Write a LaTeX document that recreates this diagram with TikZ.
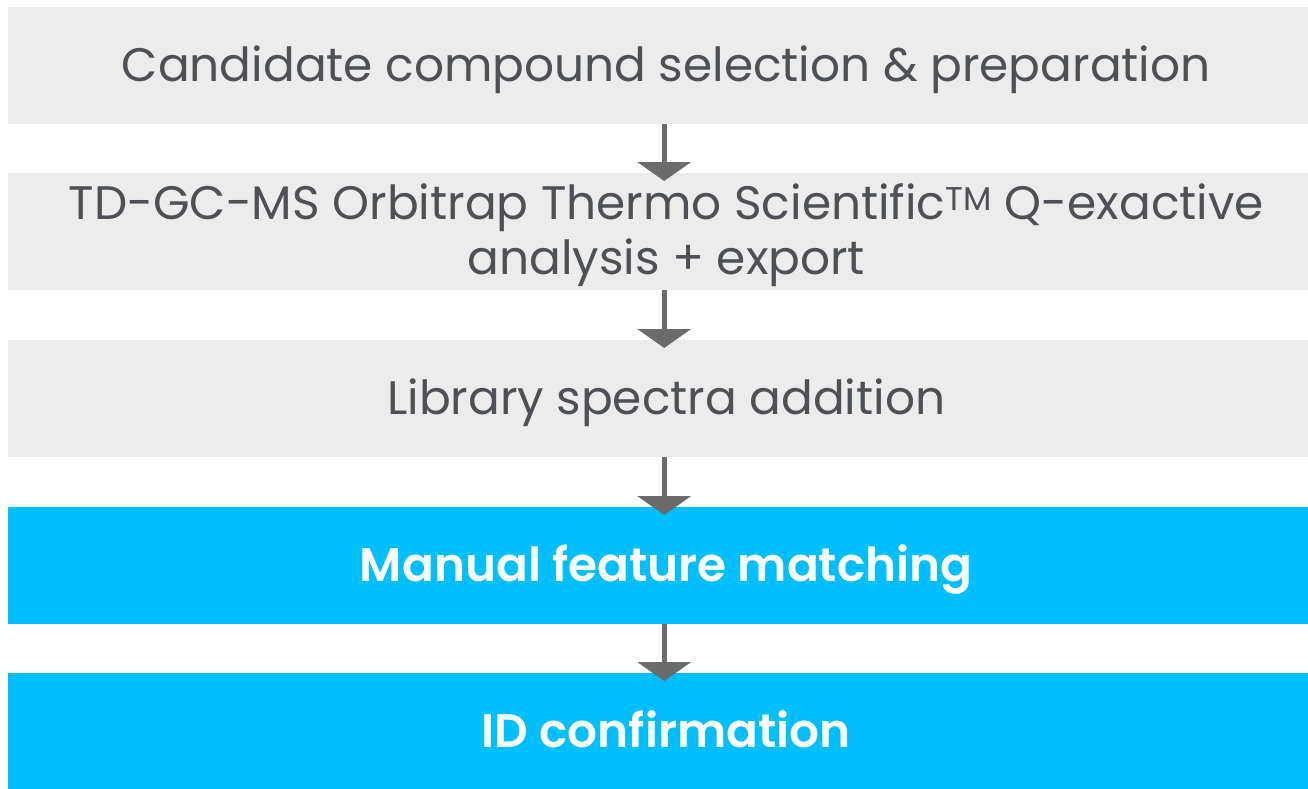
\documentclass[tikz,border=0pt]{standalone}
\usepackage{fontspec}
\setmainfont{Poppins}[Ligatures=NoCommon,BoldFont={Poppins SemiBold}]
\usetikzlibrary{arrows.meta}
\definecolor{boxgrey}{HTML}{ECECEC}
\definecolor{txtgrey}{HTML}{4D5055}
\definecolor{cyanbox}{HTML}{00BFFF}
\definecolor{arrgrey}{HTML}{6B6B6B}
\begin{document}
\begin{tikzpicture}[x=1pt,y=-1pt,
  greybox/.style={fill=boxgrey,draw=none,minimum width=1316pt,minimum height=117pt,inner sep=0pt,text depth=5pt,anchor=north west,text=txtgrey,font=\fontsize{47}{55}\selectfont,align=center},
  cyanbox/.style={greybox,fill=cyanbox,text=white,font=\fontsize{47}{55}\selectfont\bfseries},
  flow/.style={draw=arrgrey,line width=5pt,-{Triangle[width=53pt,length=19pt]}}]
\useasboundingbox (0,0) rectangle (1308,788);
\fill[white] (0,0) rectangle (1308,788);
\node[greybox] (b1) at (8,7) {Candidate compound selection \& preparation};
\node[greybox] (b2) at (8,173) {TD-GC-MS Orbitrap Thermo Scientific\textsuperscript{TM} Q-exactive\\analysis + export};
\node[greybox] (b3) at (8,340) {Library spectra addition};
\node[cyanbox] (b4) at (8,507) {Manual feature matching};
\node[cyanbox] (b5) at (8,673) {ID confirmation};
\draw[flow] ([xshift=-2pt]b1.south) -- ([xshift=-2pt,yshift=-8pt]b2.north);
\draw[flow] ([xshift=-2pt]b2.south) -- ([xshift=-2pt,yshift=-8pt]b3.north);
\draw[flow] ([xshift=-2pt]b3.south) -- ([xshift=-2pt,yshift=-8pt]b4.north);
\draw[flow] ([xshift=-2pt]b4.south) -- ([xshift=-2pt,yshift=-8pt]b5.north);
\end{tikzpicture}
\end{document}
